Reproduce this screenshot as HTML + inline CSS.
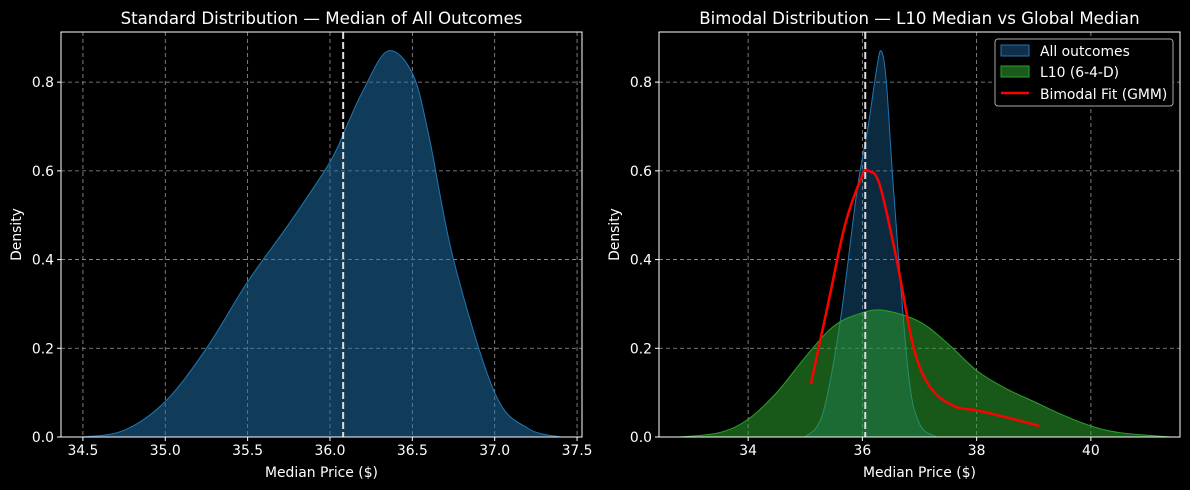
<!DOCTYPE html>
<html><head><meta charset="utf-8"><style>
body{margin:0;background:#000;}
svg{display:block;font-family:"DejaVu Sans","Liberation Sans",sans-serif;}
</style></head><body>
<svg id="c" width="1190" height="490" xmlns="http://www.w3.org/2000/svg"></svg>
<script>
// Left panel data
const leftX=[34.5,34.75,35.0,35.25,35.5,35.75,36.0,36.1,36.2,36.35,36.5,36.6,36.75,37.0,37.2,37.4];
const leftY=[0.0,0.015,0.08,0.2,0.35,0.48,0.62,0.7,0.78,0.87,0.82,0.68,0.4,0.1,0.02,0.0];
const leftMedian=36.08;
const leftXTicks=[34.5,35.0,35.5,36.0,36.5,37.0,37.5];
const yTicks=[0.0,0.2,0.4,0.6,0.8];
// Right panel data
const allX=[35.0,35.3,35.6,35.9,36.1,36.25,36.33,36.42,36.55,36.8,37.0,37.3];
const allY=[0.0,0.05,0.25,0.55,0.7,0.83,0.87,0.8,0.55,0.15,0.03,0.0];
const l10X=[32.8,33.5,34,34.5,35,35.5,36,36.4,37,37.5,38,38.5,39,39.5,40,40.5,41.4];
const l10Y=[0,0.01,0.04,0.1,0.18,0.25,0.28,0.285,0.26,0.21,0.15,0.11,0.08,0.05,0.025,0.01,0];
const gmmX=[35.1,35.4,35.7,36.0,36.1,36.3,36.6,36.9,37.2,37.6,38.0,38.5,39.1];
const gmmY=[0.12,0.3,0.48,0.59,0.6,0.57,0.4,0.2,0.11,0.07,0.06,0.045,0.025];
const rightMedian=36.05;
const rightXTicks=[34,36,38,40];

const svg=document.getElementById('c');
const NS='http://www.w3.org/2000/svg';
function el(t,a,p){const e=document.createElementNS(NS,t);for(const k in a)e.setAttribute(k,a[k]);(p||svg).appendChild(e);return e;}
function smooth(pts){let d='M'+pts[0][0]+','+pts[0][1];for(let i=0;i<pts.length-1;i++){const p0=pts[i-1]||pts[i],p1=pts[i],p2=pts[i+1],p3=pts[i+2]||p2;
const c1=[p1[0]+(p2[0]-p0[0])/6,p1[1]+(p2[1]-p0[1])/6],c2=[p2[0]-(p3[0]-p1[0])/6,p2[1]-(p3[1]-p1[1])/6];
d+=`C${c1[0]},${c1[1]} ${c2[0]},${c2[1]} ${p2[0]},${p2[1]}`;}return d;}

function panel(o){
  const g=el('g',{});
  
  
  const X=v=>o.x0+(v-o.xmin)/(o.xmax-o.xmin)*(o.x1-o.x0);
  const Y=v=>o.y1-(v/0.913)*(o.y1-o.y0);
  o.xticks.forEach(t=>{el('line',{x1:X(t),x2:X(t),y1:o.y0,y2:o.y1,stroke:'#999','stroke-dasharray':'4,3','stroke-width':0.8},g);
    el('line',{x1:X(t),x2:X(t),y1:o.y1,y2:o.y1+4,stroke:'#fff'},g);
    const tx=el('text',{x:X(t),y:o.y1+18,fill:'#fff','font-size':13.9,'text-anchor':'middle'},g);tx.textContent=o.fmt(t);
    });
  yTicks.forEach(t=>{el('line',{x1:o.x0,x2:o.x1,y1:Y(t),y2:Y(t),stroke:'#999','stroke-dasharray':'4,3','stroke-width':0.8},g);
    el('line',{x1:o.x0-4,x2:o.x0,y1:Y(t),y2:Y(t),stroke:'#fff'},g);
    const tx=el('text',{x:o.x0-7,y:Y(t)+5,fill:'#fff','font-size':13.9,'text-anchor':'end'},g);tx.textContent=t.toFixed(1);
    });
  o.series.forEach(s=>{
    const pts=s.x.map((v,i)=>[X(v),Y(s.y[i])]);
    let d=smooth(pts);
    if(s.fill){const a=el('path',{d:d+`L${pts[pts.length-1][0]},${Y(0)}L${pts[0][0]},${Y(0)}Z`,fill:s.fill,'fill-opacity':s.op,stroke:'none'},g);
      }
    const l=el('path',{d:d,fill:'none',stroke:s.stroke,'stroke-width':s.w},g);
    
  });
  const m=el('line',{x1:X(o.median),x2:X(o.median),y1:o.y0,y2:o.y1,stroke:'#ddd','stroke-width':2,'stroke-dasharray':'7,3'},g);
  
  el('rect',{x:o.x0,y:o.y0,width:o.x1-o.x0,height:o.y1-o.y0,fill:'none',stroke:'#fff','stroke-width':1},g);
  const ti=el('text',{x:(o.x0+o.x1)/2,y:24,fill:'#fff','font-size':16.6,'text-anchor':'middle'},g);ti.textContent=o.title;
  
  const xl=el('text',{x:(o.x0+o.x1)/2,y:477,fill:'#fff','font-size':13.9,'text-anchor':'middle'},g);xl.textContent='Median Price ($)';
  
  const yl=el('text',{x:0,y:0,fill:'#fff','font-size':13.9,'text-anchor':'middle',transform:`translate(${o.x0-40},${(o.y0+o.y1)/2}) rotate(-90)`},g);yl.textContent='Density';
  
  return g;
}
panel({name:'standard-distribution-panel',x0:61,x1:582,y0:32,y1:437,xmin:34.367,xmax:37.53,xticks:leftXTicks,fmt:t=>t.toFixed(1),median:leftMedian,
  title:'Standard Distribution — Median of All Outcomes',
  series:[{name:'all-outcomes',x:leftX,y:leftY,fill:'#1f77b4',op:0.5,stroke:'#1f77b4',w:1}]});
panel({name:'bimodal-distribution-panel',x0:659,x1:1180,y0:32,y1:437,xmin:32.44,xmax:41.56,xticks:rightXTicks,fmt:t=>String(t),median:rightMedian,
  title:'Bimodal Distribution — L10 Median vs Global Median',
  series:[{name:'all-outcomes',x:allX,y:allY,fill:'#1f77b4',op:0.35,stroke:'#1f77b4',w:1},
          {name:'l10',x:l10X,y:l10Y,fill:'#2ca02c',op:0.55,stroke:'#2ca02c',w:1},
          {name:'gmm-fit',x:gmmX,y:gmmY,fill:null,stroke:'#ff0000',w:2.5}]});
const lg=el('g',{});


el('rect',{x:995,y:39,width:178,height:67,rx:3,fill:'#000',stroke:'#aaa'},lg);
el('rect',{x:1001,y:45,width:28,height:11,fill:'#0f2f4d',stroke:'#1f77b4'},lg);
el('rect',{x:1001,y:66,width:28,height:11,fill:'#1a5a1a',stroke:'#2ca02c'},lg);
el('line',{x1:1001,x2:1029,y1:93,y2:93,stroke:'#ff0000','stroke-width':2.5},lg);
[['All outcomes',56],['L10 (6-4-D)',77],['Bimodal Fit (GMM)',99]].forEach(a=>{const t=el('text',{x:1040,y:a[1],fill:'#fff','font-size':13.9},lg);t.textContent=a[0];
  });
</script>
</body></html>
